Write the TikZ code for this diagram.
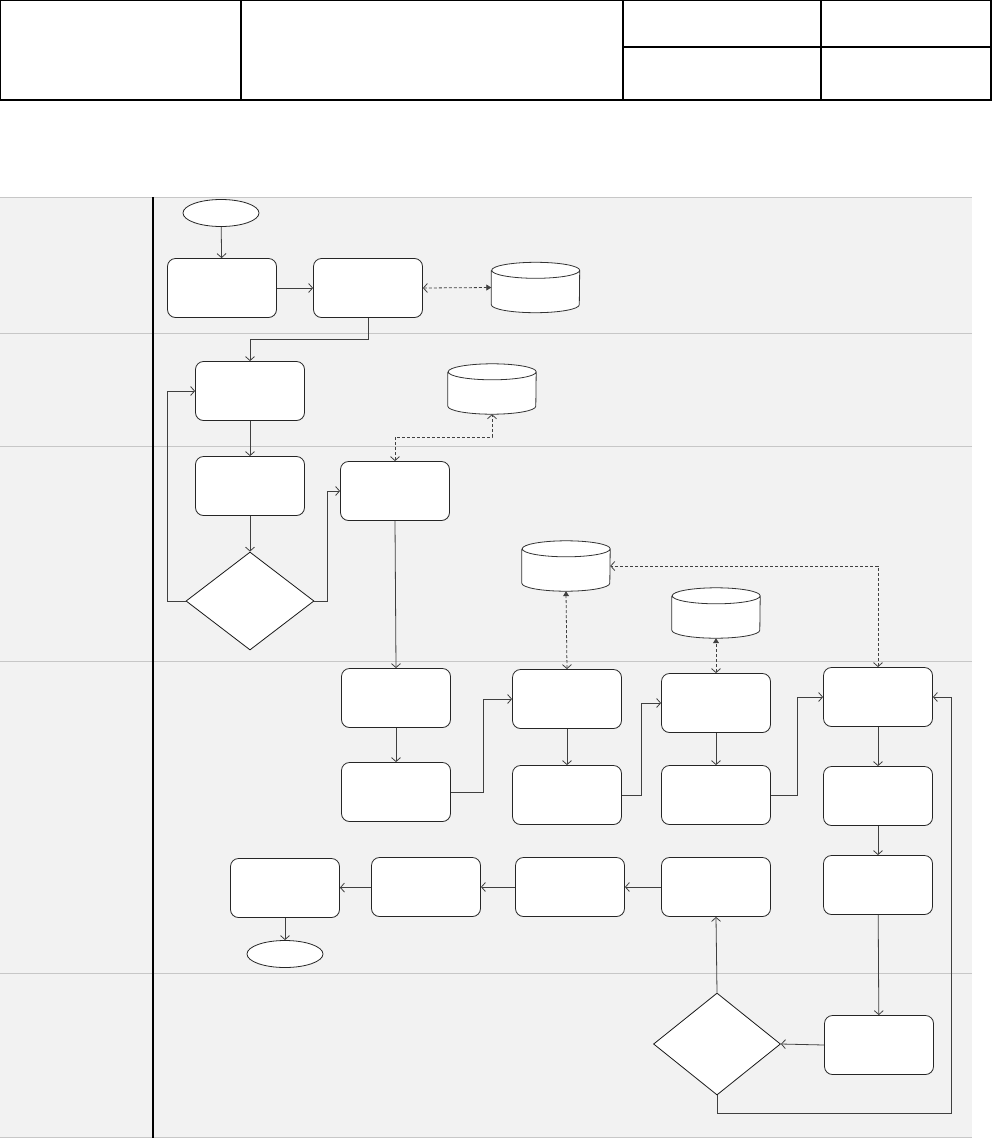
\documentclass[tikz,border=0pt]{standalone}
\usetikzlibrary{shapes.geometric,arrows.meta}
\begin{document}
\begin{tikzpicture}[x=1pt,y=-1pt,
 proc/.style={draw=black!85, fill=white, rounded corners=8pt, minimum width=109pt, minimum height=59pt, inner sep=0pt, line width=0.8pt},
 term/.style={ellipse, draw=black!85, fill=white, minimum width=76pt, minimum height=27pt, inner sep=0pt, line width=0.8pt},
 dec/.style={diamond, draw=black!90, fill=white, inner sep=0pt, line width=0.8pt},
 dbbox/.style={minimum width=88pt, minimum height=50pt, inner sep=0pt},
 flow/.style={draw=black!75, line width=0.8pt, -{Straight Barb[length=4pt,width=9pt]}},
 link/.style={draw=black!75, line width=0.8pt, dash pattern=on 3pt off 2pt},
 ob/.style={{Straight Barb[length=4pt,width=9pt]}-{Straight Barb[length=4pt,width=9pt]}},
 of/.style={{Straight Barb[length=4pt,width=9pt]}-{Triangle[length=5pt,width=6pt]}},
 lane/.style={draw=black!22, line width=0.9pt}
]
\newcommand{\dbshape}[3]{%
 \node[dbbox] (#1) at (#2,#3) {};
 \draw[fill=white, draw=black!80, line width=0.8pt] ([yshift=-8pt]#1.north west) -- ([yshift=8pt]#1.south west)
   arc[start angle=180,end angle=360,x radius=44pt,y radius=8pt] -- ([yshift=-8pt]#1.north east)
   arc[start angle=0,end angle=180,x radius=44pt,y radius=8pt]
   arc[start angle=180,end angle=360,x radius=44pt,y radius=8pt];
}
\useasboundingbox (0,0) rectangle (993,1138);
% header table
\draw[line width=1.3pt] (0.7,0.7) rectangle (991,100);
\draw[line width=1.3pt] (241,0.7) -- (241,100) (623,0.7) -- (623,100) (821,0.7) -- (821,100) (623,47) -- (991,47);
% swimlanes
\fill[black!5] (0,197) rectangle (972,1138);
\foreach \yy in {197,333,446,661,973,1137} \draw[lane] (0,\yy) -- (972,\yy);
\draw[line width=1.2pt] (153,197) -- (153,1138);
% nodes
\node[term] (start) at (221,213) {};
\node[proc] (A) at (222,288) {};
\node[proc] (B) at (368,288) {};
\dbshape{db1}{535.5}{287.5}
\node[proc] (C) at (250,391) {};
\dbshape{db2}{492}{389}
\node[proc] (D) at (250,486) {};
\node[proc] (E) at (395,491) {};
\node[dec, minimum width=128pt, minimum height=98pt] (dia1) at (250,601) {};
\dbshape{db3}{566}{566}
\dbshape{db4}{716}{613}
\node[proc] (F) at (396,698) {};
\node[proc] (G) at (567,699) {};
\node[proc] (H) at (716,703) {};
\node[proc] (I) at (878,697) {};
\node[proc] (J) at (396,792) {};
\node[proc] (K) at (567,795) {};
\node[proc] (L) at (716,795) {};
\node[proc] (M) at (878,796) {};
\node[proc] (N) at (285,888) {};
\node[proc] (O) at (426,887) {};
\node[proc] (P) at (570,887) {};
\node[proc] (Q) at (716,887) {};
\node[proc] (R) at (878,885) {};
\node[term] (end) at (285,954) {};
\node[dec, minimum width=127pt, minimum height=102pt] (dia2) at (717,1044) {};
\node[proc] (S) at (879,1045) {};
\coordinate (loop) at (951,1113);
% connectors
\draw[flow] (start) -- (A);
\draw[flow] (A) -- (B);
\draw[link, of] (B.east) -- (db1.west);
\draw[flow] (B.south) -- ++(0,21) -| (C.north);
\draw[flow] (C) -- (D);
\draw[flow] (D) -- (dia1);
\draw[flow] (dia1.west) -- ++(-18,0) |- (C.west);
\draw[flow] (dia1.east) -- ++(13,0) |- (E.west);
\draw[link, ob] (E.north) -- ++(0,-24) -| (db2.south);
\draw[flow] (E.south) -- (F.north);
\draw[flow] (F) -- (J);
\draw[flow] (J.east) -- ++(32,0) |- (G.west);
\draw[link, of] (G.north) -- (db3.south);
\draw[flow] (G) -- (K);
\draw[flow] (K.east) -- ++(19,0) |- (H.west);
\draw[link, of] (H.north) -- (db4.south);
\draw[flow] (H) -- (L);
\draw[flow] (L.east) -- ++(26,0) |- (I.west);
\draw[link, ob] (I.north) |- (db3.east);
\draw[flow] (I) -- (M);
\draw[flow] (M) -- (R);
\draw[flow] (R) -- (S);
\draw[flow] (S.west) -- (dia2.east);
\draw[flow] (dia2.north) -- (Q.south);
\draw[flow] (dia2.south) |- (loop) |- (I.east);
\draw[flow] (Q) -- (P);
\draw[flow] (P) -- (O);
\draw[flow] (O) -- (N);
\draw[flow] (N) -- (end);
\end{tikzpicture}
\end{document}
